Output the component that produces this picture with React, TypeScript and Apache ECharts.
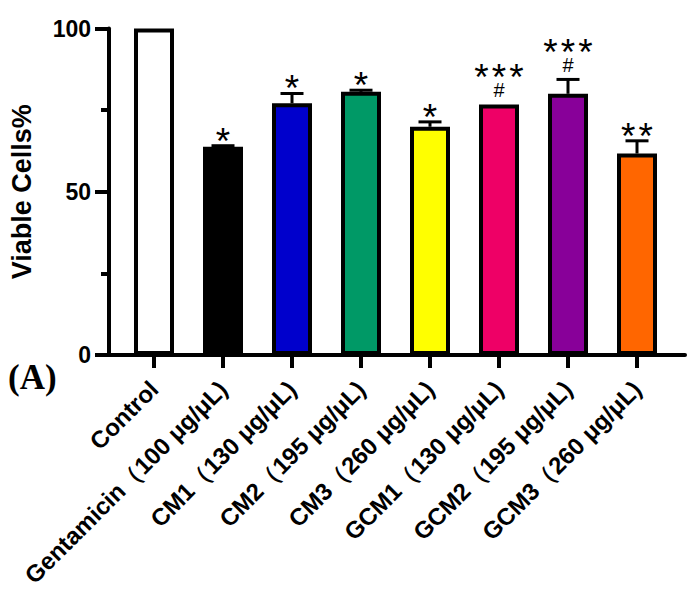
import React, { useEffect, useRef } from "react";
import * as echarts from "echarts";

const categories = [
  "Control",
  "Gentamicin（100 μg/μL)",
  "CM1（130 μg/μL)",
  "CM2（195 μg/μL)",
  "CM3（260 μg/μL)",
  "GCM1（130 μg/μL)",
  "GCM2（195 μg/μL)",
  "GCM3（260 μg/μL)",
];
const means = [100, 63.8, 77.1, 80.6, 69.9, 76.7, 80.0, 61.7];
const errors = [0, 0.3, 3.0, 0.5, 1.5, 0, 4.4, 3.9];
const colors = ["#FFFFFF", "#000000", "#0000CC", "#009966", "#FFFF00", "#EE0066", "#880099", "#FF6600"];
const starCounts = [0, 1, 1, 1, 1, 3, 3, 2];
const hashes = ["", "", "", "", "", "#", "#", ""];
const yTicks = [0, 50, 100];

const SANS = "'Liberation Sans', Arial, sans-serif";

export default function App() {
  const ref = useRef<HTMLDivElement>(null);
  useEffect(() => {
    if (!ref.current) return;
    const chart = echarts.init(ref.current, null, { renderer: "svg" });
    const gridTop = 28.5;
    const gridHeight = 326.5;
    const option: any = {
      animation: false,
      backgroundColor: "#ffffff",
      grid: [
        { left: 119.5, width: 552, top: gridTop, height: gridHeight },
        { left: 107, width: 578, top: gridTop, height: gridHeight },
      ],
      xAxis: [
        {
          type: "category",
          gridIndex: 0,
          data: categories,
          axisLine: { show: false },
          axisTick: { show: true, alignWithLabel: true, length: 13, lineStyle: { color: "#000", width: 4 } },
          axisLabel: {
            interval: 0,
            rotate: 45,
            margin: 30,
            color: "#000",
            fontFamily: SANS,
            fontWeight: "bold",
            fontSize: 24,
          },
        },
        {
          type: "value",
          gridIndex: 1,
          min: 0,
          max: 1,
          axisLine: { show: true, lineStyle: { color: "#000", width: 4 } },
          axisTick: { show: false },
          axisLabel: { show: false },
          splitLine: { show: false },
        },
      ],
      yAxis: [
        { type: "value", gridIndex: 0, min: 0, max: 100, show: false },
        {
          type: "value",
          gridIndex: 1,
          min: 0,
          max: 100,
          interval: 50,
          name: "Viable Cells%",
          nameLocation: "middle",
          nameRotate: 90,
          nameGap: 74,
          nameTextStyle: { color: "#000", fontFamily: SANS, fontWeight: "bold", fontSize: 27 },
          axisLine: { show: true, lineStyle: { color: "#000", width: 4 } },
          axisTick: { show: true, length: 14, lineStyle: { color: "#000", width: 4 } },
          minorTick: { show: true, splitNumber: 2, length: 8, lineStyle: { color: "#000", width: 4 } },
          axisLabel: {
            margin: 18,
            color: "#000",
            fontFamily: SANS,
            fontWeight: "bold",
            fontSize: 23,
            formatter: (v: number) => (yTicks.includes(v) ? String(v) : ""),
          },
          splitLine: { show: false },
          minorSplitLine: { show: false },
        },
      ],
      series: [
        {
          type: "bar",
          xAxisIndex: 0,
          yAxisIndex: 0,
          barWidth: 40,
          data: means.map((m, i) => ({
            value: m,
            itemStyle: { color: colors[i], borderColor: "#000", borderWidth: 4 },
          })),
        },
        {
          type: "custom",
          xAxisIndex: 0,
          yAxisIndex: 0,
          z: 5,
          data: means.map((m, i) => [i, m, errors[i]]),
          renderItem: (params: any, api: any) => {
            const i = api.value(0);
            const m = api.value(1);
            const e = api.value(2);
            const base = api.coord([i, m]);
            const top = api.coord([i, m + e]);
            const x = base[0];
            const children: any[] = [];
            if (e > 0) {
              children.push({
                type: "line",
                shape: { x1: x, y1: base[1], x2: x, y2: top[1] },
                style: { stroke: "#000", lineWidth: 3 },
              });
              children.push({
                type: "line",
                shape: { x1: x - 11.5, y1: top[1], x2: x + 11.5, y2: top[1] },
                style: { stroke: "#000", lineWidth: 3 },
              });
            }
            // yb = bottom edge of the next annotation glyph
            let yb = top[1] - 7.5;
            const h = hashes[params.dataIndex];
            const n = starCounts[params.dataIndex];
            if (h) {
              children.push({
                type: "text",
                x,
                y: yb - 7.1,
                style: {
                  text: h,
                  fill: "#000",
                  font: `20px ${SANS}`,
                  lineHeight: 12,
                  align: "center",
                  verticalAlign: "middle",
                  textAlign: "center",
                  textVerticalAlign: "middle",
                },
              });
              yb -= 14.3 + 8;
            }
            for (let k = 0; k < n; k++) {
              children.push({
                type: "text",
                x: x + (k - (n - 1) / 2) * 17.5,
                y: yb + 2.9,
                style: {
                  text: "*",
                  fill: "#000",
                  font: `37px ${SANS}`,
                  lineHeight: 12,
                  align: "center",
                  verticalAlign: "middle",
                  textAlign: "center",
                  textVerticalAlign: "middle",
                },
              });
            }
            return { type: "group", children };
          },
        },
      ],
      graphic: [
        {
          type: "text",
          left: 8,
          top: 360,
          style: {
            text: "(A)",
            fill: "#000",
            font: "bold 35px 'Liberation Serif', 'Times New Roman', serif",
          },
        },
      ],
    };
    chart.setOption(option);
    return () => chart.dispose();
  }, []);
  return (
    <div
      ref={ref}
      style={{ position: "fixed", left: 0, top: 0, width: 698, height: 609, background: "#fff" }}
    />
  );
}
